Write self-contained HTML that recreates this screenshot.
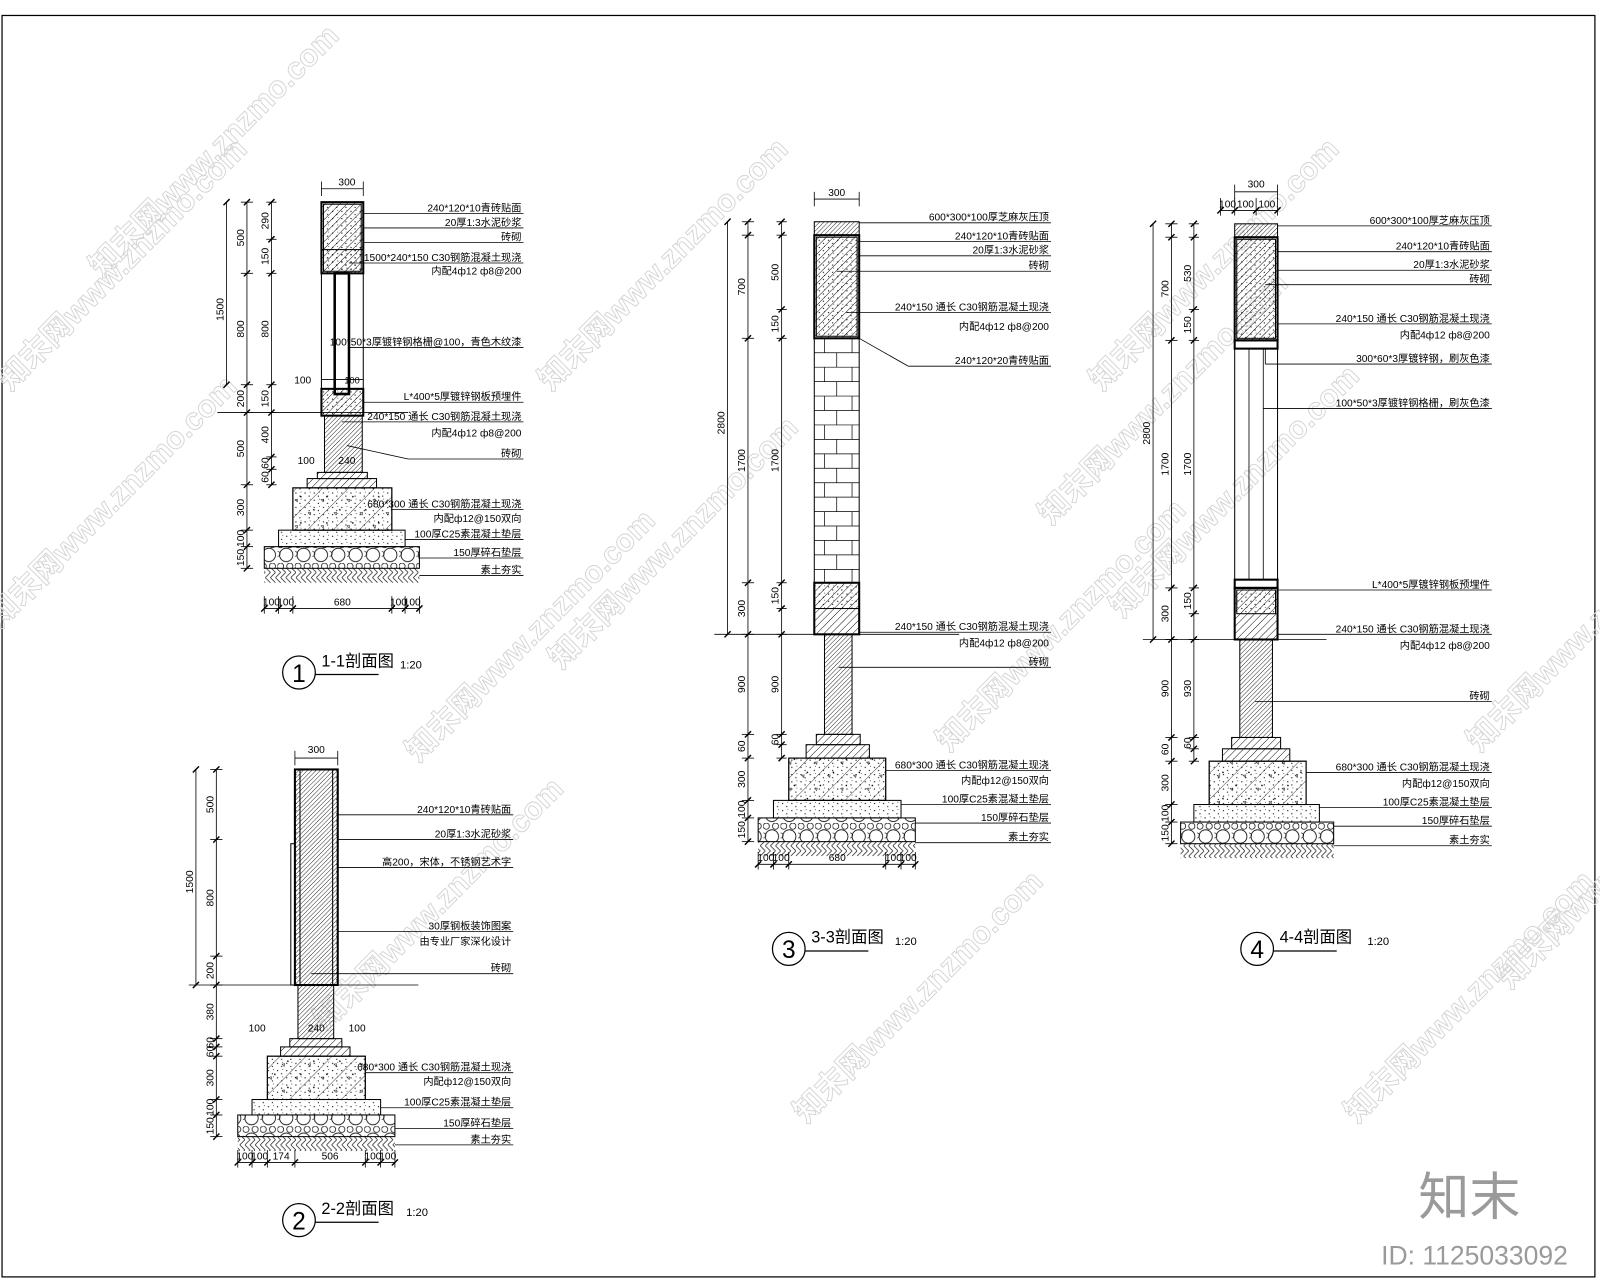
<!DOCTYPE html>
<html><head><meta charset="utf-8"><style>
html,body{margin:0;padding:0;background:#fff}
svg{display:block}
text{font-family:"Liberation Sans","Noto Sans CJK SC",sans-serif;fill:#000}
.wm{fill:none;stroke:#d4d4d4;stroke-width:0.9;font-size:30px;font-weight:bold}
</style></head><body>
<svg id="s" width="1600" height="1280" viewBox="0 0 1568 1241" preserveAspectRatio="none" xmlns="http://www.w3.org/2000/svg">
<defs>
<pattern id="h" width="5" height="5" patternUnits="userSpaceOnUse" patternTransform="rotate(45)"><line x1="0" y1="0" x2="0" y2="5" stroke="#000" stroke-width="0.9"/></pattern>
<pattern id="hd" width="3" height="3" patternUnits="userSpaceOnUse" patternTransform="rotate(45)"><line x1="0" y1="0" x2="0" y2="3" stroke="#000" stroke-width="0.8"/></pattern>
<pattern id="c" width="18" height="18" patternUnits="userSpaceOnUse" patternTransform="rotate(45)"><line x1="0" y1="0" x2="0" y2="18" stroke="#000" stroke-width="0.7"/><circle cx="9" cy="6" r="0.8"/><path d="M7 12 l3 0 l-1.5 -2z" fill="none" stroke="#000" stroke-width="0.5"/></pattern>
<pattern id="d" width="9" height="7" patternUnits="userSpaceOnUse"><circle cx="2" cy="2" r="0.6"/><circle cx="6" cy="5" r="0.6"/><circle cx="7" cy="1" r="0.4"/></pattern>
<pattern id="g" width="17" height="21" patternUnits="userSpaceOnUse"><circle cx="8.5" cy="13" r="6.5" fill="none" stroke="#000" stroke-width="0.8"/><circle cx="3" cy="3" r="3" fill="none" stroke="#000" stroke-width="0.7"/><circle cx="12" cy="3" r="3" fill="none" stroke="#000" stroke-width="0.7"/><circle cx="0" cy="12" r="2.5" fill="none" stroke="#000" stroke-width="0.6"/></pattern>
<pattern id="z" width="10" height="10" patternUnits="userSpaceOnUse"><path d="M0 0 L5 5 L0 10 M5 0 L10 5 L5 10" fill="none" stroke="#000" stroke-width="0.6"/></pattern>
</defs>
<rect x="2" y="15" width="1561" height="1223" fill="none" stroke="#000" stroke-width="1.2"/>
<g id="wm"></g>
<g id="dr" stroke="#000" stroke-width="1" fill="none"></g>
<g id="tx"></g>
</svg>
<script>
const NS="http://www.w3.org/2000/svg";
const dr=document.getElementById('dr'),tx=document.getElementById('tx'),wm=document.getElementById('wm');
function el(p,t,a,txt){const e=document.createElementNS(NS,t);for(const k in a)e.setAttribute(k,a[k]);if(txt!==undefined)e.textContent=txt;p.appendChild(e);return e;}
function R(x1,y1,x2,y2,fill,sw){el(dr,'rect',{x:x1,y:y1,width:x2-x1,height:y2-y1,fill:fill||'none','stroke-width':sw||1});}
function L(x1,y1,x2,y2,sw){el(dr,'line',{x1,y1,x2,y2,'stroke-width':sw||0.8});}
function T(x,y,s,fs,anc,rot){const a={x,y,'font-size':fs||10,'text-anchor':anc||'start'};if(rot)a.transform=`rotate(-90 ${x} ${y})`;el(tx,'text',a,s);}
function lab(x1,x2,y,s,noline){if(!noline)L(x1,y,x2,y,0.8);T(x2-2,y-2,s,10,'end');}
function vdim(x,ys,labels,ext){L(x,ys[0],x,ys[ys.length-1],0.8);ys.forEach(y=>{L(x-ext,y,x+ext,y,0.8);L(x-3,y+3,x+3,y-3,1.4);});for(let i=0;i<labels.length;i++){if(labels[i]){const m=(ys[i]+ys[i+1])/2;T(x-3,m,labels[i],10,'middle',true);}}}
function hdim(y,xs,labels){L(xs[0],y,xs[xs.length-1],y,0.8);xs.forEach(x=>{L(x,y-12,x,y+5,0.8);L(x-3,y+3,x+3,y-3,1.4);});for(let i=0;i<labels.length;i++){if(labels[i])T((xs[i]+xs[i+1])/2,y-3,labels[i],10,'middle');}}
function base(o){
 R(o.nx1,o.ny1,o.nx2,o.s1,'url(#hd)');
 R(o.a1,o.s1,o.a2,o.s2,'url(#h)');R(o.b1,o.s2,o.b2,o.f1,'url(#h)');
 R(o.f1x,o.f1,o.f2x,o.f2,'url(#c)');R(o.f1x,o.f1,o.f2x,o.f2,'url(#d)');
 R(o.p1,o.f2,o.p2,o.pb,'url(#d)');
 R(o.g1,o.pb,o.g2,o.gb,'url(#g)');
 el(dr,'rect',{x:o.g1,y:o.gb,width:o.g2-o.g1,height:14,fill:'url(#z)',stroke:'none'});
}
function title(cx,cy,n,label,sx){el(dr,'circle',{cx,cy,r:16,'stroke-width':1.2});T(cx,cy+9,n,24,'middle');T(cx+22,cy-6,label,16);L(cx+16,cy+2,cx+16+62,cy+2,1.2);T(sx,cy-4,'1:20',11);}
// S1
R(315,196,356,265,'url(#h)',2);R(317,198,354,263,'url(#d)');R(315,242,356,265,'url(#d)');
R(315,265,356,377);R(328,265,342,382,'none',2.5);L(315,368,356,368);
R(315,377,356,403,'url(#h)',2);R(315,377,356,403,'url(#d)');
base({nx1:318,ny1:403,nx2:355,s1:458,a1:311,a2:360,s2:464,b1:301,b2:369,f1:473,f1x:287,f2x:384,f2:514,p1:273,p2:397,pb:530,g1:259,g2:411,gb:551});
T(340,180,'300',10,'middle');L(315,183,356,183);L(315,176,315,190);L(356,176,356,190);
vdim(222,[196,373],[''],0);T(219,300,'1500',10,'middle',true);
vdim(242,[196,265,373,400,470,514,530,551],['500','800','200','500','300','100','150'],6);
vdim(266,[196,232,265,373,400,443,455,470],['290','150','800','150','400','60','60'],5);
L(213,400,400,400);
hdim(590,[259,273,287,384,397,411],['100','100','680','100','100']);
T(305,372,'100',10,'end');T(345,372,'100',9,'middle');
T(300,450,'100',10,'middle');T(340,450,'240',10,'middle');
lab(356,513,207,'240*120*10青砖贴面');lab(356,513,221,'20厚1:3水泥砂浆');lab(356,513,235,'砖砌');
lab(342,513,255,'1500*240*150 C30钢筋混凝土现浇');lab(356,513,268,'内配4ф12 ф8@200',1);
lab(342,513,337,'100*50*3厚镀锌钢格栅@100，青色木纹漆');lab(356,513,390,'L*400*5厚镀锌钢板预埋件');
lab(335,513,409,'240*150 通长 C30钢筋混凝土现浇');lab(356,513,425,'内配4ф12 ф8@200',1);
L(340,432,400,445);lab(400,513,445,'砖砌');
lab(384,513,494,'680*300 通长 C30钢筋混凝土现浇');lab(384,513,508,'内配ф12@150双向',1);
lab(397,513,523,'100厚C25素混凝土垫层');lab(411,513,541,'150厚碎石垫层');lab(411,513,558,'素土夯实');
title(293,652,'1','1-1剖面图',392);
// S2
R(289,746,331,955,'url(#hd)',2);R(289,746,294,955,'url(#d)');R(326,746,331,955,'url(#d)');
R(285,818,289,955);
base({nx1:292,ny1:955,nx2:327,s1:1007,a1:284,a2:335,s2:1015,b1:275,b2:343,f1:1024,f1x:262,f2x:358,f2:1066,p1:247,p2:373,pb:1081,g1:233,g2:387,gb:1102});
T(310,730,'300',10,'middle');L(289,735,331,735);L(289,728,289,742);L(331,728,331,742);
vdim(192,[746,955],[''],0);T(189,855,'1500',10,'middle',true);
vdim(212,[746,814,927,955,1007,1015,1024,1066,1081,1102],['500','800','200','380','60','60','300','100','150'],6);
L(185,955,410,955);
hdim(1127,[233,247,262,289,358,373,387],['100','100','174','506','100','100']);
T(252,1000,'100',10,'middle');T(310,1000,'240',10,'middle');T(350,1000,'100',10,'middle');
lab(331,503,790,'240*120*10青砖贴面');lab(331,503,814,'20厚1:3水泥砂浆');lab(331,503,841,'高200，宋体，不锈钢艺术字');
lab(331,503,903,'30厚钢板装饰图案');lab(331,503,918,'由专业厂家深化设计',1);lab(305,503,944,'砖砌');
lab(358,503,1040,'680*300 通长 C30钢筋混凝土现浇');lab(358,503,1054,'内配ф12@150双向',1);
lab(373,503,1074,'100厚C25素混凝土垫层');lab(387,503,1094,'150厚碎石垫层');lab(387,503,1110,'素土夯实');
title(293,1183,'2','2-2剖面图',398);
// S3
R(798,215,842,228,'url(#hd)');R(798,228,842,328,'url(#h)',2);R(800,230,840,326,'url(#d)');
R(798,328,842,565);
for(let y=328,i=0;y<565;y+=14,i++){L(798,y,842,y,0.7);const xs=i%2?[820]:[808,835];xs.forEach(x=>L(x,y,x,Math.min(y+14,565),0.7));}
R(798,565,842,615,'url(#h)',2);R(798,565,842,590,'url(#d)');
base({nx1:808,ny1:615,nx2:835,s1:712,a1:800,a2:843,s2:722,b1:790,b2:852,f1:735,f1x:773,f2x:868,f2:776,p1:758,p2:883,pb:793,g1:743,g2:897,gb:816});
T(820,190,'300',10,'middle');L(798,193,842,193);L(798,186,798,200);L(842,186,842,200);
vdim(713,[215,615],[''],0);T(710,410,'2800',10,'middle',true);
vdim(733,[215,228,328,565,615,712,735,776,793,816],['','700','1700','300','900','60','300','100','150'],6);
vdim(766,[215,228,300,328,565,590,615,712,722,735],['','500','150','1700','150','','900','60',''],5);
L(700,615,940,615);
hdim(838,[743,758,773,868,883,897],['100','100','680','100','100']);
lab(842,1030,216,'600*300*100厚芝麻灰压顶');lab(842,1030,234,'240*120*10青砖贴面');lab(842,1030,248,'20厚1:3水泥砂浆');
lab(820,1030,263,'砖砌');lab(830,1030,303,'240*150 通长 C30钢筋混凝土现浇');lab(842,1030,322,'内配4ф12 ф8@200',1);
L(842,328,890,355);lab(890,1030,355,'240*120*20青砖贴面');
lab(842,1030,613,'240*150 通长 C30钢筋混凝土现浇');lab(842,1030,629,'内配4ф12 ф8@200',1);lab(822,1030,647,'砖砌');
lab(868,1030,747,'680*300 通长 C30钢筋混凝土现浇');lab(868,1030,762,'内配ф12@150双向',1);
lab(883,1030,780,'100厚C25素混凝土垫层');lab(897,1030,798,'150厚碎石垫层');lab(897,1030,817,'素土夯实');
title(773,920,'3','3-3剖面图',877);
// S4
R(1210,217,1252,230,'url(#hd)');R(1210,230,1252,330,'url(#h)',2);R(1212,232,1250,328,'url(#d)');
R(1210,330,1252,338,'none',2);R(1210,338,1252,562);L(1224,338,1224,562);L(1238,338,1238,562);
R(1210,562,1252,570,'none',2);R(1210,570,1252,620,'url(#h)',2);R(1212,572,1250,595,'url(#d)');
base({nx1:1215,ny1:620,nx2:1247,s1:715,a1:1207,a2:1255,s2:726,b1:1198,b2:1264,f1:738,f1x:1185,f2x:1280,f2:780,p1:1170,p2:1293,pb:797,g1:1157,g2:1307,gb:818});
T(1231,182,'300',10,'middle');L(1210,186,1252,186);L(1210,179,1210,193);L(1252,179,1252,193);
hdim(204,[1196,1210,1231,1252],['100','100','100']);
vdim(1130,[217,620],[''],0);T(1127,420,'2800',10,'middle',true);
vdim(1148,[217,230,330,570,620,715,738,780,797,818],['','700','1700','300','900','60','300','100','150'],6);
vdim(1170,[217,230,300,330,570,595,620,715,726,738],['','530','150','1700','150','','930','60',''],5);
L(1120,620,1300,620);
lab(1252,1462,219,'600*300*100厚芝麻灰压顶');lab(1252,1462,244,'240*120*10青砖贴面');lab(1252,1462,262,'20厚1:3水泥砂浆');
lab(1240,1462,276,'砖砌');lab(1252,1462,314,'240*150 通长 C30钢筋混凝土现浇');lab(1252,1462,330,'内配4ф12 ф8@200',1);
L(1240,338,1240,353);lab(1240,1462,353,'300*60*3厚镀锌钢，刷灰色漆');lab(1238,1462,396,'100*50*3厚镀锌钢格栅，刷灰色漆');
lab(1252,1462,572,'L*400*5厚镀锌钢板预埋件');lab(1252,1462,615,'240*150 通长 C30钢筋混凝土现浇');lab(1252,1462,631,'内配4ф12 ф8@200',1);
lab(1230,1462,680,'砖砌');lab(1280,1462,749,'680*300 通长 C30钢筋混凝土现浇');lab(1280,1462,765,'内配ф12@150双向',1);
lab(1293,1462,783,'100厚C25素混凝土垫层');lab(1307,1462,801,'150厚碎石垫层');lab(1307,1462,820,'素土夯实');
title(1232,920,'4','4-4剖面图',1340);
[[10,380],[0,610],[410,740],[540,380],[550,650],[930,730],[1080,380],[1030,510],[1330,1090],[1450,730],[1480,960],[790,1090],[320,1000],[1100,600],[100,270]].forEach(p=>{
 el(wm,'text',{x:p[0],y:p[1],class:'wm',transform:`rotate(-45 ${p[0]} ${p[1]})`},'知末网www.znzmo.com');});
el(tx,'text',{x:1440,y:1178,'font-size':50,'text-anchor':'middle',style:'fill:#9a9a9a'},'知末');
el(tx,'text',{x:1445,y:1226,'font-size':26,'text-anchor':'middle',style:'fill:#9a9a9a'},'ID: 1125033092');
</script>
</body></html>
